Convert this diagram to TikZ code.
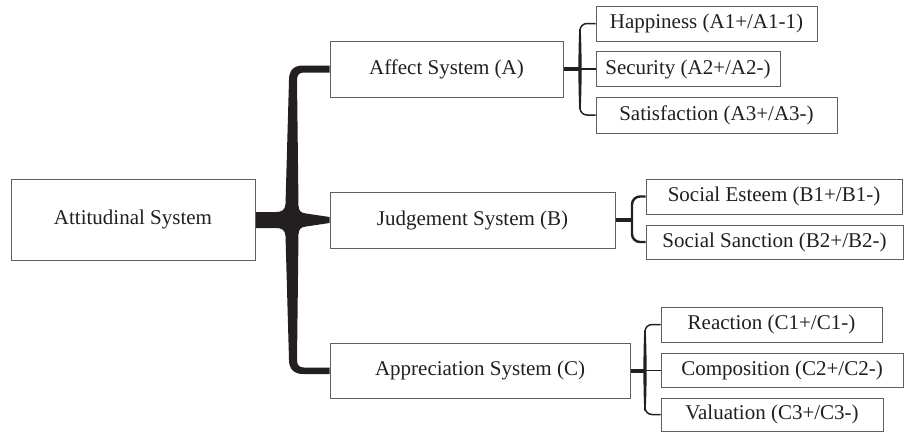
\documentclass[tikz,border=0pt]{standalone}
\usepackage{fontspec}
\setmainfont{Liberation Serif}
\usetikzlibrary{calc}
\definecolor{ink}{RGB}{35,31,32}
\definecolor{frame}{RGB}{95,95,98}
\begin{document}
\begin{tikzpicture}[x=1pt,y=-1pt,
  box/.style={draw=frame, line width=1pt, fill=white, inner sep=0pt,
    text=ink, font=\fontsize{21}{24}\selectfont},
  stub/.style={draw=ink, line width=4pt},
  arm/.style={draw=ink, line width=1.5pt},
  brace/.style={draw=ink, line width=2.4pt, rounded corners=8pt}]
\useasboundingbox (0,0) rectangle (904,432);

% root
\node[box, minimum width=244pt, minimum height=81pt] (att) at (133,219.5) {Attitudinal System};

% second level
\node[box, minimum width=233pt, minimum height=56pt] (aff) at (446.5,69) {Affect System (A)};
\node[box, minimum width=285pt, minimum height=56pt] (jud) at (472.5,220) {Judgement System (B)};
\node[box, minimum width=300pt, minimum height=55pt] (app) at (480,370.5) {Appreciation System (C)};

% third level
\node[box, minimum width=221pt, minimum height=35pt] (hap) at (706.5,23.5) {Happiness (A1+/A1-1)};
\node[box, minimum width=184pt, minimum height=35pt] (sec) at (688,69) {Security (A2+/A2-)};
\node[box, minimum width=241pt, minimum height=36pt] (sat) at (716.5,115) {Satisfaction (A3+/A3-)};
\node[box, minimum width=256pt, minimum height=35pt] (est) at (774,196.5) {Social Esteem (B1+/B1-)};
\node[box, minimum width=257pt, minimum height=34pt] (san) at (774.5,242) {Social Sanction (B2+/B2-)};
\node[box, minimum width=221pt, minimum height=35pt] (rea) at (771.5,324.5) {Reaction (C1+/C1-)};
\node[box, minimum width=242pt, minimum height=34pt] (com) at (782,370.5) {Composition (C2+/C2-)};
\node[box, minimum width=222pt, minimum height=33pt] (val) at (772,414.5) {Valuation (C3+/C3-)};

% main bracket: tapered trunk joining the root to the three systems
\fill[ink] ($(aff.west)+(0,-3.5)$) -- (303,65.5)
  .. controls (294,65.5) and (289,70) .. (289,80)
  -- (285.5,204) .. controls (285,210) and (282,212) .. (276,212)
  -- ($(att.east)+(0.5,-7.5)$) -- ($(att.east)+(0.5,8.5)$)
  -- (276,228) .. controls (282,228) and (285,230) .. (285.5,236)
  -- (289,360) .. controls (289,369) and (294,374) .. (303,374)
  -- ($(app.west)+(0,3.5)$) -- ($(app.west)+(0,-3)$)
  -- (304,367.5) .. controls (299,367.5) and (297,365) .. (297,360)
  -- (298.5,234) .. controls (299,229) and (301,227) .. (306,226.5)
  -- ($(jud.west)+(0,3)$) -- ($(jud.west)+(0,-3)$)
  -- (306,213.5) .. controls (301,213) and (299,211) .. (298.5,206)
  -- (297,80) .. controls (297,75) and (299,72.5) .. (304,72.5)
  -- ($(aff.west)+(0,3.5)$) -- cycle;

% spines of the smaller brackets
\coordinate (sa) at (580,69);
\coordinate (sb) at (632,220);
\coordinate (sc) at (645,370.5);

% bracket A
\draw[stub] (aff.east) -- (sa);
\draw[arm, rounded corners=7pt] (hap.west) -| (sa) |- (sat.west);
\draw[arm] (sa) -- (sec.west);
\fill[ink] ($(sa)+(-0.75,-40)$) .. controls ($(sa)+(-1.9,-15)$) and ($(sa)+(-1.9,15)$) .. ($(sa)+(-0.75,40)$)
  -- ($(sa)+(0.75,40)$) .. controls ($(sa)+(1.9,15)$) and ($(sa)+(1.9,-15)$) .. ($(sa)+(0.75,-40)$) -- cycle;

% bracket B
\draw[stub] (jud.east) -- (sb);
\draw[brace] (est.west) -| (sb) |- (san.west);

% bracket C
\draw[stub] (app.east) -- (sc);
\draw[arm, rounded corners=7pt] (rea.west) -| (sc) |- (val.west);
\draw[arm] (sc) -- (com.west);
\fill[ink] ($(sc)+(-0.75,-40)$) .. controls ($(sc)+(-1.9,-15)$) and ($(sc)+(-1.9,15)$) .. ($(sc)+(-0.75,40)$)
  -- ($(sc)+(0.75,40)$) .. controls ($(sc)+(1.9,15)$) and ($(sc)+(1.9,-15)$) .. ($(sc)+(0.75,-40)$) -- cycle;
\end{tikzpicture}
\end{document}
